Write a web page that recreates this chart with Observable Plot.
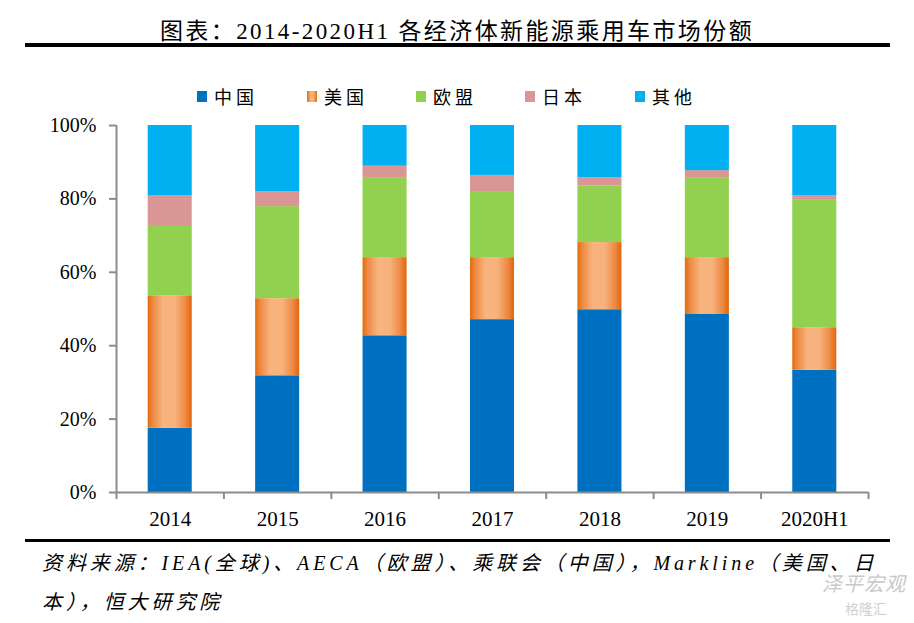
<!DOCTYPE html>
<html><head><meta charset="utf-8">
<script src="https://cdn.jsdelivr.net/npm/d3@7"></script>
<script src="https://cdn.jsdelivr.net/npm/@observablehq/plot@0.6"></script>
<style>
html,body{margin:0;padding:0;background:#fff;width:914px;height:623px;overflow:hidden;position:relative;font-family:"Liberation Serif","Noto Sans CJK SC",serif;color:#000;}
#title{position:absolute;left:0;width:914px;top:15px;text-align:center;font-size:23px;letter-spacing:2.4px;line-height:34px;white-space:nowrap;font-weight:400;}
.hr{position:absolute;left:25px;width:865px;background:#000;}
#legend{position:absolute;top:82px;left:0;width:914px;height:28px;}
.item{position:absolute;top:0;height:28px;display:flex;align-items:center;font-size:18px;letter-spacing:4px;white-space:nowrap;}
.sw{width:10px;height:11px;margin-right:7px;flex:none;}
#chart{position:absolute;left:0;top:110px;}
#source{position:absolute;left:42px;top:544px;font-style:italic;font-size:20px;line-height:39px;letter-spacing:3.9px;white-space:nowrap;}
#wm1{position:absolute;left:822px;top:568px;font-size:20px;color:#c8c8c8;font-style:italic;letter-spacing:1px;}
#wm2{position:absolute;left:845px;top:598px;font-size:14px;color:#d0d0d0;}
</style></head>
<body>
<div id="title"></div>
<div class="hr" style="top:43px;height:4px;"></div>
<div id="legend"></div>
<div id="chart"></div>
<div class="hr" style="top:539px;height:3px;"></div>
<div id="source">资料来源：IEA(全球)、AECA（欧盟）、乘联会（中国），Markline（美国、日<br>本），恒大研究院</div>
<div id="wm1">泽平宏观</div>
<div id="wm2">格隆汇</div>
<script>
const titleText = "图表：2014-2020H1 各经济体新能源乘用车市场份额";
const years = ["2014", "2015", "2016", "2017", "2018", "2019", "2020H1"];
const seriesNames = ["中国", "美国", "欧盟", "日本", "其他"];
const china = [17.5, 31.8, 42.7, 47.1, 49.8, 48.5, 33.3];
const usa   = [36.1, 21.0, 21.3, 16.9, 18.3, 15.5, 11.6];
const eu    = [18.9, 25.1, 21.6, 18.0, 15.4, 21.8, 34.7];
const japan = [8.4, 4.1, 3.3, 4.4, 2.3, 1.9, 1.3];
const other = [19.1, 18.0, 11.1, 13.6, 14.2, 12.3, 19.1];
const yTicks = [0, 20, 40, 60, 80, 100];
const colors = ["#0070C0", "url(#usGrad)", "#92D050", "#D99694", "#00B0F0"];
const legendCss = ["#0070C0", "linear-gradient(to right,#E46C0A,#F8B47E 40%,#F8B47E 60%,#E46C0A)", "#92D050", "#D99694", "#00B0F0"];

document.getElementById("title").textContent = titleText;

// legend
const legendX = [197, 307, 416, 525, 635];
const lg = document.getElementById("legend");
seriesNames.forEach((s, i) => {
  const it = document.createElement("div");
  it.className = "item";
  it.style.left = legendX[i] + "px";
  it.innerHTML = `<div class="sw" style="background:${legendCss[i]}"></div><span>${s}</span>`;
  lg.appendChild(it);
});

// stacked data
const seriesVals = [china, usa, eu, japan, other];
const rows = [];
years.forEach((y, i) => {
  let acc = 0;
  seriesVals.forEach((vals, k) => {
    rows.push({year: y, idx: i, series: seriesNames[k], y1: acc, y2: acc + vals[i]});
    acc += vals[i];
  });
});
const barHalf = 0.205;

const axisColor = "#8c8c8c";
const plot = Plot.plot({
  width: 914,
  height: 430,
  marginTop: 15,
  marginBottom: 48,
  marginLeft: 116,
  marginRight: 46,
  style: {fontFamily: "'Liberation Serif', serif", background: "#fff", color: "#000"},
  x: {domain: [0, years.length], axis: null},
  y: {domain: [0, 100], axis: null},
  color: {type: "ordinal", domain: seriesNames, range: colors},
  marks: [
    Plot.rect(rows, {
      x1: d => d.idx + 0.5 - barHalf,
      x2: d => d.idx + 0.5 + barHalf,
      y1: "y1", y2: "y2",
      fill: "series"
    }),
    Plot.ruleX([0], {stroke: axisColor, strokeWidth: 2}),
    Plot.ruleY([0], {stroke: axisColor, strokeWidth: 2}),
    Plot.axisY({ticks: yTicks, tickFormat: d => d + "%", tickSize: 7, tickPadding: 13, stroke: axisColor, strokeWidth: 2, fontSize: 20, fill: "#000", label: null}),
    Plot.axisX({ticks: d3.range(years.length + 1), tickFormat: () => "", tickSize: 7, stroke: axisColor, strokeWidth: 2, label: null}),
    Plot.axisX({ticks: years.map((_, i) => i + 0.5), tickFormat: v => years[Math.floor(v)], tickSize: 0, tickPadding: 19, fontSize: 21, fill: "#000", label: null})
  ]
});

// gradient for the US series
const defs = d3.select(plot).insert("defs", ":first-child");
const g = defs.append("linearGradient").attr("id", "usGrad").attr("x1", "0").attr("x2", "1").attr("y1", "0").attr("y2", "0");
[["0%", "#E46C0A"], ["12%", "#EE8A45"], ["35%", "#F8B47E"], ["62%", "#F7B27C"], ["85%", "#EE8A45"], ["100%", "#E2660A"]].forEach(([o, c]) => g.append("stop").attr("offset", o).attr("stop-color", c));

document.getElementById("chart").appendChild(plot);
</script>
</body></html>
